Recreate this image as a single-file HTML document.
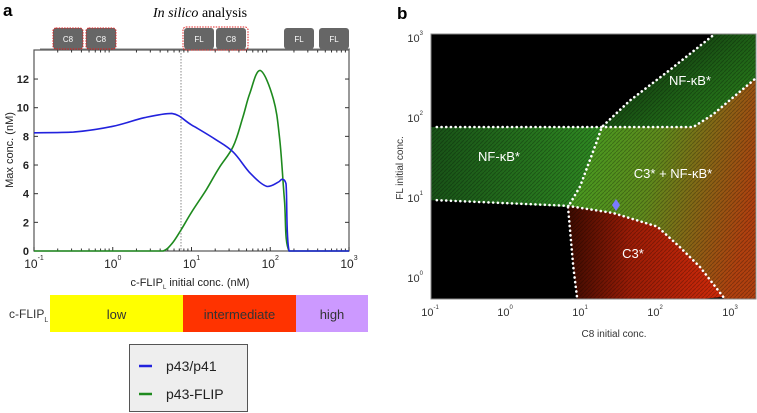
<!DOCTYPE html>
<html><head><meta charset="utf-8">
<style>
body{margin:0;background:#fff;width:757px;height:413px;overflow:hidden;font-family:"Liberation Sans",sans-serif}
svg{position:absolute;left:0;top:0}
</style></head>
<body>
<svg id="fig" width="757" height="413" viewBox="0 0 757 413">
<defs>
<linearGradient id="gBand" x1="0" x2="1" y1="0" y2="0"><stop offset="0" stop-color="#164d16"/><stop offset="1" stop-color="#2f8a22"/></linearGradient>
<linearGradient id="gTop" x1="0" x2="1" y1="0" y2="1"><stop offset="0" stop-color="#000"/><stop offset="0.6" stop-color="#1d5e16"/><stop offset="1" stop-color="#2f8a1c"/></linearGradient>
<linearGradient id="gMix" x1="0" x2="1" y1="0" y2="0.3"><stop offset="0" stop-color="#3da022"/><stop offset="0.5" stop-color="#5f8a1c"/><stop offset="1" stop-color="#b0400f"/></linearGradient>
<linearGradient id="gRed" x1="0" x2="1" y1="0" y2="0"><stop offset="0" stop-color="#3a0a00"/><stop offset="0.4" stop-color="#9a1c06"/><stop offset="1" stop-color="#d02a0a"/></linearGradient>
<pattern id="tex" width="4" height="4" patternUnits="userSpaceOnUse"><rect width="4" height="4" fill="none"/><path d="M0 4 L4 0" stroke="#000" stroke-opacity="0.25" stroke-width="1"/></pattern>
<clipPath id="clipB"><rect x="431" y="34" width="325" height="265"/></clipPath>
</defs>
<g id="panelA"></g>
<g id="panelB"></g>
</svg>
<script>
// ---- Panel A data ----
const blueX = [-1,-0.5,0,0.4,0.75,1.0,1.3,1.53,1.75,1.96,2.1,2.15,2.2,2.24,3];
const blueY = [8.25,8.3,8.7,9.3,9.6,8.8,7.8,6.9,5.4,4.5,4.8,5.0,4.7,0,0];
const greenX = [-1,0.5,0.64,0.75,0.87,1.0,1.19,1.35,1.53,1.65,1.74,1.87,2.04,2.12,2.18,2.24,3];
const greenY = [0,0,0,0.5,1.5,2.7,4.3,5.8,7.3,9.3,11.0,12.6,10.6,7.8,3.6,0,0];
const yTicks = [0,2,4,6,8,10,12];
const xTickExp = [-1,0,1,2,3];
// ---- Panel B data (log10 coords) ----
const bUpperH = [[-0.91,1.875],[2.51,1.875],[2.77,2.03],[3.11,2.3],[3.35,2.49]];
const bDiag = [[2.76,3.01],[2.2,2.59],[1.67,2.21],[1.29,1.875],[1.23,1.71],[1.0,1.13],[0.84,0.875],[0.91,0.125],[0.96,-0.25]];
const bLower = [[-0.91,0.96],[0.83,0.89],[1.44,0.8],[2.03,0.63],[2.33,0.375],[2.6,0.125],[2.91,-0.25]];
const bPoint = [1.48,0.9];
const bXTickExp = [-1,0,1,2,3];
const bYTickExp = [0,1,2,3];

const NS="http://www.w3.org/2000/svg";
function mk(parent,tag,attrs,text){const e=document.createElementNS(NS,tag);for(const k in attrs)e.setAttribute(k,attrs[k]);if(text!==undefined)e.textContent=text;parent.appendChild(e);return e;}

const ax={l:34,r:349,t:50,b:251};
const xA=v=>ax.l+(v+1)*(ax.r-ax.l)/4;
const yA=v=>ax.b-v*14.33;
const A=document.getElementById('panelA');
let t=mk(A,'text',{x:3,y:16,'font-size':17,'font-weight':'bold'},'a');


t=mk(A,'text',{x:200,y:17,'font-size':14,'text-anchor':'middle','font-family':'Liberation Serif, serif'});


t.innerHTML='<tspan font-style="italic">In silico</tspan> analysis';
let fr=mk(A,'rect',{x:ax.l,y:ax.t,width:ax.r-ax.l,height:ax.b-ax.t,fill:'#fff',stroke:'#555','stroke-width':1.2});


yTicks.forEach(v=>{
  mk(A,'line',{x1:ax.l,x2:ax.l+4,y1:yA(v),y2:yA(v),stroke:'#333'});
  mk(A,'line',{x1:ax.r,x2:ax.r-4,y1:yA(v),y2:yA(v),stroke:'#333'});
  const tl=mk(A,'text',{x:ax.l-5,y:yA(v)+4,'font-size':11,'font-weight':'bold','text-anchor':'end',fill:'#222'},String(v));
  
  
});
for(let d=-1;d<3;d++){for(let m=2;m<10;m++){const xx=xA(d+Math.log10(m));mk(A,'line',{x1:xx,x2:xx,y1:ax.b,y2:ax.b-2.5,stroke:'#333'});mk(A,'line',{x1:xx,x2:xx,y1:ax.t,y2:ax.t+2.5,stroke:'#333'});}}
xTickExp.forEach(e=>{
  const xx=xA(e);
  mk(A,'line',{x1:xx,x2:xx,y1:ax.b,y2:ax.b-4,stroke:'#333'});
  const tl=mk(A,'text',{x:xx,y:268,'font-size':12,'text-anchor':'middle',fill:'#222'});
  
  
  tl.innerHTML='10<tspan font-size="7" dy="-8">'+e+'</tspan>';
});
t=mk(A,'text',{x:190,y:286,'font-size':11,'text-anchor':'middle',fill:'#222'});


t.innerHTML='c-FLIP<tspan font-size="6" dy="3">L</tspan><tspan dy="-3"> initial conc. (nM)</tspan>';
t=mk(A,'text',{x:0,y:0,'font-size':11,'text-anchor':'middle',fill:'#222',transform:'translate(13,150) rotate(-90)'},'Max conc. (nM)');


let dv=mk(A,'line',{x1:181,x2:181,y1:ax.t,y2:ax.b,stroke:'#888','stroke-dasharray':'1.5,1.5'});


// smooth path with clamped control points (no overshoot)
function pathOf(xs,ys){
  const p=xs.map((x,i)=>[xA(x),yA(ys[i])]);
  let d='M'+p[0][0].toFixed(1)+' '+p[0][1].toFixed(1);
  const k=0.18;
  const cl=(v,a,b)=>Math.max(Math.min(a,b),Math.min(Math.max(a,b),v));
  for(let i=0;i<p.length-1;i++){
    const p0=p[Math.max(0,i-1)],p1=p[i],p2=p[i+1],p3=p[Math.min(p.length-1,i+2)];
    const c1=[p1[0]+(p2[0]-p0[0])*k,cl(p1[1]+(p2[1]-p0[1])*k,p1[1],p2[1])];
    const c2=[p2[0]-(p3[0]-p1[0])*k,cl(p2[1]-(p3[1]-p1[1])*k,p1[1],p2[1])];
    c1[0]=cl(c1[0],p1[0],p2[0]);c2[0]=cl(c2[0],p1[0],p2[0]);
    d+=' C'+c1.map(v=>v.toFixed(1)).join(' ')+' '+c2.map(v=>v.toFixed(1)).join(' ')+' '+p2[0].toFixed(1)+' '+p2[1].toFixed(1);
  }
  return d;
}
let gc=mk(A,'path',{d:pathOf(greenX,greenY),fill:'none',stroke:'#1e8a1e','stroke-width':1.6,'stroke-linejoin':'round'});


let bc=mk(A,'path',{d:pathOf(blueX,blueY),fill:'none',stroke:'#2222dd','stroke-width':1.6,'stroke-linejoin':'round'});


const boxes=[[53,'C8',true],[86,'C8',true],[184,'FL',false],[216,'C8',false],[284,'FL',false],[319,'FL',false]];
mk(A,'line',{x1:40,x2:350,y1:49,y2:49,stroke:'#777'});
boxes.forEach(b=>{
  const g=mk(A,'g',{});
  
  
  mk(g,'rect',{x:b[0],y:28,width:30,height:21,rx:3,fill:'#666',stroke:b[2]?'#e02020':'none','stroke-dasharray':'1.5,1.2','stroke-width':1});
  mk(g,'text',{x:b[0]+15,y:42,'font-size':8,'text-anchor':'middle',fill:'#fff'},b[1]);
});
let pr=mk(A,'rect',{x:183,y:27,width:65,height:23,rx:3,fill:'none',stroke:'#e02020','stroke-dasharray':'1.5,1.2'});


const levels=[[50,133,'#ffff00','low'],[183,113,'#ff3300','intermediate'],[296,72,'#cc99ff','high']];
levels.forEach(l=>{
  const g=mk(A,'g',{});
  
  
  mk(g,'rect',{x:l[0],y:295,width:l[1],height:37,fill:l[2]});
  mk(g,'text',{x:l[3]==='high'?l[0]+36:l[0]+l[1]/2,y:319,'font-size':13,'text-anchor':'middle',fill:'#333'},l[3]);
});
t=mk(A,'text',{x:9,y:318,'font-size':12,fill:'#333'});


t.innerHTML='c-FLIP<tspan font-size="7" dy="4">L</tspan>';
const lg=mk(A,'g',{});


mk(lg,'rect',{x:129.5,y:344.5,width:118,height:67,fill:'#eee',stroke:'#555'});
[['p43/p41','#2222dd',366],['p43-FLIP','#1e8a1e',394]].forEach(e=>{
  const g=mk(lg,'g',{});
  
  
  mk(g,'line',{x1:139,x2:152,y1:e[2],y2:e[2],stroke:e[1],'stroke-width':2.5});
  mk(g,'text',{x:166,y:e[2]+5,'font-size':14,fill:'#222'},e[0]);
});

// Panel B
const B=document.getElementById('panelB');
const bx={l:431,r:756,t:34,b:299};
const xB=v=>430+(v+1)*75;
const yB=v=>277-v*80;
t=mk(B,'text',{x:397,y:19,'font-size':17,'font-weight':'bold'},'b');


const hm=mk(B,'g',{'clip-path':'url(#clipB)'});


mk(hm,'rect',{x:bx.l,y:bx.t,width:bx.r-bx.l,height:bx.b-bx.t,fill:'#000'});
const P=pts=>pts.map(p=>xB(p[0]).toFixed(1)+','+yB(p[1]).toFixed(1)).join(' ');
mk(hm,'polygon',{points:P([[-1.2,bUpperH[0][1]],...bUpperH.slice(0,1),[bDiag[3][0],1.875],[bDiag[4][0],bDiag[4][1]],[bDiag[5][0],bDiag[5][1]],[bDiag[6][0],bDiag[6][1]],[bLower[0][0],bLower[0][1]],[-1.2,bLower[0][1]]]),fill:'url(#gBand)'});
mk(hm,'polygon',{points:P([...bDiag.slice(0,4),...bUpperH.slice(1),[3.5,3.5],[2.9,3.5]]),fill:'url(#gTop)'});
mk(hm,'polygon',{points:P([bDiag[3],...bUpperH.slice(1),[3.5,-0.5],[3.0,-0.5],...[...bLower].reverse().slice(0,6),bDiag[6],bDiag[5],bDiag[4]]),fill:'url(#gMix)'});
mk(hm,'polygon',{points:P([...bLower.slice(1),[0.96,-0.4],bDiag[8],bDiag[7],bDiag[6]]),fill:'url(#gRed)'});
mk(hm,'rect',{x:bx.l,y:bx.t,width:bx.r-bx.l,height:bx.b-bx.t,fill:'url(#tex)'});
[bUpperH,bDiag,bLower].forEach((arr,i)=>{
  const pl=mk(B,'polyline',{points:P(arr),fill:'none',stroke:'#fff','stroke-width':2.6,'stroke-dasharray':'0.1,4.6','stroke-linecap':'round','clip-path':'url(#clipB)'});
  
  
});
const dm=mk(B,'polygon',{points:[[0,-6],[4,0],[0,6],[-4,0]].map(p=>(xB(bPoint[0])+p[0])+','+(yB(bPoint[1])+p[1])).join(' '),fill:'#7a7aff'});


[['NF-κB*',690,85],['NF-κB*',499,161],['C3* + NF-κB*',673,178],['C3*',633,258]].forEach(l=>{
  const tl=mk(B,'text',{x:l[1],y:l[2],'font-size':13,'text-anchor':'middle',fill:'#fff'},l[0]);
  
  
});
mk(B,'rect',{x:bx.l,y:bx.t,width:bx.r-bx.l,height:bx.b-bx.t,fill:'none',stroke:'#888'});
bXTickExp.forEach(e=>{
  const tl=mk(B,'text',{x:xB(e),y:316,'font-size':11,'text-anchor':'middle',fill:'#333'});
  
  
  tl.innerHTML='10<tspan font-size="6" dy="-7">'+e+'</tspan>';
});
bYTickExp.forEach(e=>{
  const tl=mk(B,'text',{x:423,y:yB(e)+5,'font-size':11,'text-anchor':'end',fill:'#333'});
  
  
  tl.innerHTML='10<tspan font-size="6" dy="-7">'+e+'</tspan>';
});
t=mk(B,'text',{x:614,y:337,'font-size':10,'text-anchor':'middle',fill:'#333'},'C8 initial conc.');


t=mk(B,'text',{x:0,y:0,'font-size':10,'text-anchor':'middle',fill:'#333',transform:'translate(403,168) rotate(-90)'},'FL initial conc.');


</script>
</body></html>
